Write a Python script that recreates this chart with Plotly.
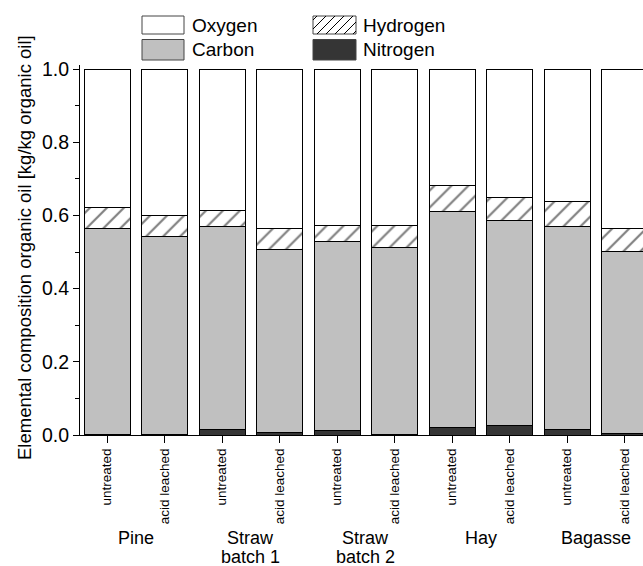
import plotly.graph_objects as go

# ---------------- data ----------------
samples = ["untreated", "acid leached"] * 5
group_line1 = ["Pine", "Straw", "Straw", "Hay", "Bagasse"]
group_line2 = ["", "batch 1", "batch 2", "", ""]
# cumulative tops
nitrogen_top = [0.002, 0.002, 0.016, 0.007, 0.013, 0.002, 0.020, 0.027, 0.016, 0.003]
carbon_top   = [0.565, 0.541, 0.571, 0.508, 0.530, 0.511, 0.612, 0.587, 0.571, 0.501]
hydrogen_top = [0.622, 0.599, 0.614, 0.565, 0.573, 0.573, 0.683, 0.649, 0.637, 0.563]

nitrogen = nitrogen_top
carbon = [c - n for c, n in zip(carbon_top, nitrogen_top)]
hydrogen = [h - c for h, c in zip(hydrogen_top, carbon_top)]
oxygen = [1.0 - h for h in hydrogen_top]

x = list(range(len(samples)))
FONT = "Liberation Sans, Arial, sans-serif"

# plot area in pixels
L, R, T, B = 80, 643, 65, 435
def px(xp):
    return (xp - L) / (R - L)
def py(yp):
    return (B - yp) / (B - T)

fig = go.Figure()
line = dict(color="black", width=1)
fig.add_bar(x=x, y=nitrogen, name="Nitrogen", marker=dict(color="#353535", line=line), width=0.8)
fig.add_bar(x=x, y=carbon, name="Carbon", marker=dict(color="#c0c0c0", line=line), width=0.8)
fig.add_bar(x=x, y=hydrogen, name="Hydrogen",
            marker=dict(color="white", line=line,
                        pattern=dict(shape="/", bgcolor="white", fgcolor="black", size=12, solidity=0.18)),
            width=0.8)
fig.add_bar(x=x, y=oxygen, name="Oxygen", marker=dict(color="white", line=line), width=0.8)

# ---------------- manual legend ----------------
shapes = []
annotations = []
def swatch(x0, y0, x1, y1, fill):
    shapes.append(dict(type="rect", xref="paper", yref="paper",
                       x0=px(x0), x1=px(x1), y0=py(y1), y1=py(y0),
                       fillcolor=fill, line=dict(color="#444444", width=1)))

swatch(142, 16, 184, 34, "white")
swatch(142, 39.5, 184, 60, "#c0c0c0")
swatch(313, 16, 356, 34, "white")
swatch(313, 39.5, 356, 60, "#353535")
# hatch lines inside hydrogen swatch
hx0, hx1, hy0, hy1 = 313, 356, 16, 34
h = hy1 - hy0
k = hx0 - h + 4
while k < hx1:
    xa, ya = k, hy1
    xb, yb = k + h, hy0
    if xa < hx0:
        ya = hy1 - (hx0 - xa)
        xa = hx0
    if xb > hx1:
        yb = hy0 + (xb - hx1)
        xb = hx1
    if xb > xa:
        shapes.append(dict(type="line", xref="paper", yref="paper",
                           x0=px(xa), y0=py(ya), x1=px(xb), y1=py(yb),
                           line=dict(color="black", width=1)))
    k += 9

for label, lx, ly in [("Oxygen", 190, 25), ("Carbon", 190, 50), ("Hydrogen", 361, 25), ("Nitrogen", 361, 50)]:
    annotations.append(dict(text=label, xref="paper", yref="paper", x=px(lx), y=py(ly),
                            xanchor="left", yanchor="middle", showarrow=False,
                            font=dict(family=FONT, size=19, color="black")))

# group labels
for i, (g1, g2) in enumerate(zip(group_line1, group_line2)):
    annotations.append(dict(text=g1, xref="x", yref="paper", x=2 * i + 0.5, y=py(538),
                            xanchor="center", yanchor="middle", showarrow=False,
                            font=dict(family=FONT, size=18, color="black")))
    if g2:
        annotations.append(dict(text=g2, xref="x", yref="paper", x=2 * i + 0.5, y=py(557),
                                xanchor="center", yanchor="middle", showarrow=False,
                                font=dict(family=FONT, size=18, color="black")))

# y-axis title
annotations.append(dict(text="Elemental composition organic oil [kg/kg organic oil]",
                        xref="paper", yref="paper", x=px(24), y=py(248), textangle=-90,
                        xanchor="center", yanchor="middle", showarrow=False,
                        font=dict(family=FONT, size=18.5, color="black")))

fig.update_layout(
    barmode="stack",
    width=643, height=566,
    margin=dict(l=L, r=643 - R, t=T, b=566 - B, pad=0),
    plot_bgcolor="white", paper_bgcolor="white",
    showlegend=False,
    font=dict(family=FONT, color="black"),
    shapes=shapes, annotations=annotations,
    xaxis=dict(range=[-27 / 57.5, 536 / 57.5], tickvals=x, ticktext=samples, tickangle=-90,
               ticks="outside", ticklen=7, tickcolor="black", showline=True, linecolor="black",
               showgrid=False, zeroline=False, tickfont=dict(size=13.5), automargin=False),
    yaxis=dict(range=[0, (B - T) / 366], tick0=0, dtick=0.2, tickformat=".1f",
               ticks="outside", ticklen=6, tickcolor="black", showline=True, linecolor="black",
               showgrid=False, zeroline=False, tickfont=dict(size=19.5), automargin=False,
               minor=dict(dtick=0.1, ticks="outside", ticklen=4, tickcolor="black", showgrid=False)),
)

fig.write_html("out.html", config={"displayModeBar": False},
               post_script="document.body.style.margin='0';document.body.style.overflow='hidden';")
